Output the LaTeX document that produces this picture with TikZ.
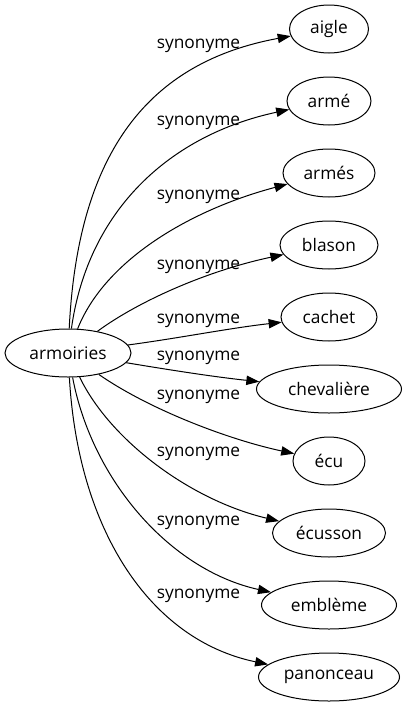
\documentclass[tikz,border=0pt]{standalone}
\usepackage{fontspec}
\setmainfont{Open Sans}
\usetikzlibrary{arrows.meta,shapes.geometric}
\begin{document}
\begin{tikzpicture}[x=0.75pt,y=-0.75pt,
  every node/.style={font=\fontsize{13}{15}\selectfont},
  word/.style={ellipse,draw,line width=0.75pt,inner sep=0pt,minimum height=36pt},
  rel/.style={line width=0.75pt,-{Triangle[length=9.75pt,width=7pt]}},
  lbl/.style={inner sep=0pt}]
\useasboundingbox (0,0) rectangle (407,707);
\node[word,minimum width=94.5pt] (arm) at (68,353) {armoiries};
\node[word,minimum width=59.25pt] (n1) at (329,29) {aigle};
\node[word,minimum width=63pt] (n2) at (329,101) {armé};
\node[word,minimum width=69pt] (n3) at (329,173) {armés};
\node[word,minimum width=73.5pt] (n4) at (329,245) {blason};
\node[word,minimum width=72pt] (n5) at (329,317) {cachet};
\node[word,minimum width=108.75pt] (n6) at (329,389) {chevalière};
\node[word,minimum width=54pt] (n7) at (329,461) {écu};
\node[word,minimum width=84.75pt] (n8) at (329,533) {écusson};
\node[word,minimum width=101.25pt] (n9) at (329,605) {emblème};
\node[word,minimum width=105.75pt] (n10) at (329,677) {panonceau};

\draw[rel] (arm) .. controls (78,150) and (150,62) .. (n1);
\draw[rel] (arm) .. controls (88,210) and (170,135) .. (n2);
\draw[rel] (arm) .. controls (105,260) and (190,210) .. (n3);
\draw[rel] (arm) .. controls (140,300) and (210,270) .. (n4);
\draw[rel] (arm) .. controls (180,338) and (230,328) .. (n5);
\draw[rel] (arm) .. controls (170,370) and (215,377) .. (n6);
\draw[rel] (arm) .. controls (150,410) and (230,440) .. (n7);
\draw[rel] (arm) .. controls (110,440) and (190,500) .. (n8);
\draw[rel] (arm) .. controls (92,480) and (170,570) .. (n9);
\draw[rel] (arm) .. controls (78,530) and (150,640) .. (n10);

\node[lbl] (l1) at (198.5,46) {synonyme};
\node[lbl] (l2) at (198.5,122.5) {synonyme};
\node[lbl] (l3) at (198.5,196.5) {synonyme};
\node[lbl] (l4) at (198.5,266.5) {synonyme};
\node[lbl] (l5) at (198.5,321) {synonyme};
\node[lbl] (l6) at (198.5,358) {synonyme};
\node[lbl] (l7) at (198.5,397) {synonyme};
\node[lbl] (l8) at (198.5,453.5) {synonyme};
\node[lbl] (l9) at (198.5,522.5) {synonyme};
\node[lbl] (l10) at (198.5,596) {synonyme};
\end{tikzpicture}
\end{document}
